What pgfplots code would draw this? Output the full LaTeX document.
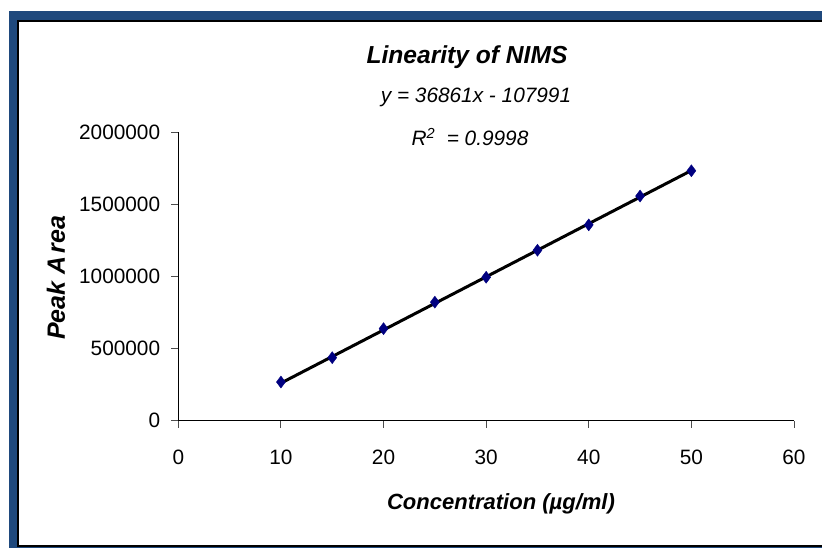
\documentclass[border=0pt]{standalone}
\usepackage{fontspec}
\setmainfont{Liberation Sans}
\usepackage{pgfplots}
\pgfplotsset{compat=1.18}
\definecolor{frameblue}{RGB}{31,73,125}
\definecolor{navymark}{RGB}{0,0,128}
\begin{document}
\begin{tikzpicture}[x=1pt,y=1pt]
\useasboundingbox (0,0) rectangle (822,549);
% frame
\fill[frameblue] (9,1) rectangle (822,538);
\fill[white] (18,3) rectangle (822,528);
\draw[black, line width=1.2pt] (822,3) -- (18,3) -- (18,528) -- (822,528);
\begin{axis}[
  at={(178.3pt,128.3pt)}, anchor=south west,
  scale only axis, width=615.7pt, height=288.4pt,
  xmin=0, xmax=60, ymin=0, ymax=2000000,
  axis x line=bottom, axis y line=left,
  axis line style={-, line width=1pt, black},
  xtick={0,10,...,60}, ytick={0,500000,1000000,1500000,2000000},
  tick align=outside, major tick length=7pt,
  tick style={line width=1pt, black!70},
  scaled y ticks=false,
  /pgf/number format/assume math mode=true,
  yticklabel style={/pgf/number format/fixed, /pgf/number format/1000 sep={}, font=\fontsize{20.8}{24}\selectfont, inner sep=0pt, anchor=east, xshift=-11pt},
  xticklabel style={font=\fontsize{20.8}{24}\selectfont, inner sep=0pt, anchor=north, yshift=-22pt},
  clip=false,
]
\addplot[only marks, mark=diamond*, mark size=6pt, mark options={fill=navymark, draw=navymark}]
coordinates {(10,268000) (15,437000) (20,638000) (25,822000) (30,995000) (35,1182000) (40,1358000) (45,1558000) (50,1733000)};
\addplot[black, line width=3pt, no marks] coordinates {(10,260619) (50,1735059)};
\end{axis}
\node[font=\fontsize{24.6}{28}\selectfont\bfseries\itshape] at (467,492) {Linearity of NIMS};
\node[font=\fontsize{20.8}{24}\selectfont\itshape] at (476,452) {y = 36861x - 107991};
\node[font=\fontsize{20.8}{24}\selectfont\itshape] at (470,412) {R\textsuperscript{2}\ \ = 0.9998};
\node[font=\fontsize{22}{26}\selectfont\bfseries\itshape] at (501,45) {Concentration (µg/ml)};
\node[font=\fontsize{25}{28}\selectfont\bfseries\itshape, rotate=90] at (56,271) {Peak A\hspace{0.12em}rea};
\end{tikzpicture}
\end{document}
